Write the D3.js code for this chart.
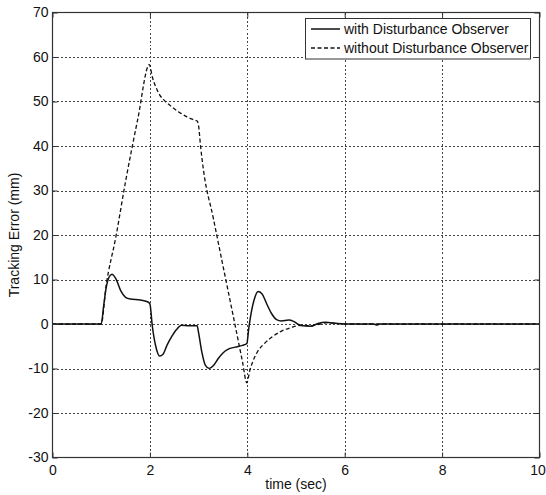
<!DOCTYPE html>
<html>
<head>
<meta charset="utf-8">
<script src="https://cdn.jsdelivr.net/npm/d3@7/dist/d3.min.js"></script>
<style>
  body { margin: 0; background: #fff; }
  text { font-family: "Liberation Sans", Arial, sans-serif; fill: #111; }
</style>
</head>
<body>
<svg id="chart" width="546" height="495"></svg>
<script>
// tick labels
const xTicks = [0, 2, 4, 6, 8, 10]
const yTicks = [-30, -20, -10, 0, 10, 20, 30, 40, 50, 60, 70]

// with disturbance observer (solid)
const withTime = [0, 1.0, 1.05, 1.1, 1.16, 1.22, 1.3, 1.4, 1.5, 1.6, 1.8, 1.95, 2.0, 2.05, 2.12, 2.2, 2.27, 2.35, 2.45, 2.55, 2.65, 2.8, 2.97, 3.0, 3.07, 3.14, 3.22, 3.3, 3.4, 3.5, 3.6, 3.75, 3.9, 3.99, 4.03, 4.08, 4.15, 4.22, 4.3, 4.4, 4.5, 4.6, 4.7, 4.85, 4.95, 5.05, 5.15, 5.3, 5.45, 5.6, 5.7, 5.85, 6.0, 6.6, 6.66, 6.72, 10]
const withErr = [0, 0, 4, 8, 10.5, 11.2, 10.2, 7.5, 6.0, 5.6, 5.4, 5.0, 4.5, -0.5, -5, -7.2, -6.8, -4.8, -2.8, -1.2, -0.3, -0.4, -0.4, -2, -6.5, -9.3, -10, -9.4, -7.8, -6.5, -5.7, -5.2, -4.8, -4.4, -1, 2.5, 5.8, 7.3, 6.8, 4.5, 2.3, 1.0, 0.7, 0.9, 0.6, -0.1, -0.4, -0.5, 0.1, 0.4, 0.3, 0.1, 0, 0, -0.2, 0, 0]

// without disturbance observer (dashed)
const withoutTime = [0, 1.0, 1.1, 1.3, 1.5, 1.75, 1.99, 2.05, 2.12, 2.2, 2.3, 2.45, 2.6, 2.75, 2.9, 2.97, 3.0, 3.04, 3.1, 3.3, 3.5, 3.7, 3.9, 3.99, 4.05, 4.1, 4.2, 4.35, 4.5, 4.7, 4.9, 5.1, 5.3, 5.5, 5.65, 5.85, 6.0, 10]
const withoutErr = [0, 0, 8.5, 19.5, 32, 46, 58.3, 55.5, 53.3, 51.5, 50.2, 48.8, 47.6, 46.6, 45.9, 45.6, 44.5, 40, 34.6, 23.9, 13.1, 2.4, -8.4, -13.2, -10.5, -8.8, -6.4, -4.4, -3, -1.6, -0.8, -0.3, -0.4, 0, 0.3, 0.1, 0, 0]

const seriesNames = ['with Disturbance Observer', 'without Disturbance Observer']

const svg = d3.select('#chart')
const pLeft = 52.5, pRight = 539.5, pTop = 12.5, pBottom = 457.5

const x = d3.scaleLinear().domain([0, 10]).range([pLeft, pRight])
const y = d3.scaleLinear().domain([-30, 70]).range([pBottom, pTop])

// grid
const grid = svg.append('g')
  .attr('stroke', '#444')
  .attr('stroke-width', 1)
  .attr('stroke-dasharray', '2,2')
  .attr('shape-rendering', 'crispEdges')

grid.selectAll('line.gx')
  .data(xTicks.slice(1, -1))
  .enter().append('line')
  .attr('x1', d => Math.round(x(d)) + 0.5).attr('x2', d => Math.round(x(d)) + 0.5)
  .attr('y1', pTop).attr('y2', pBottom)

grid.selectAll('line.gy')
  .data(yTicks.slice(1, -1))
  .enter().append('line')
  .attr('y1', d => Math.round(y(d)) + 0.5).attr('y2', d => Math.round(y(d)) + 0.5)
  .attr('x1', pLeft).attr('x2', pRight)

// lines
const line = d3.line()
  .x(d => x(d[0]))
  .y(d => y(d[1]))
  .curve(d3.curveMonotoneX)

svg.append('path')
  .datum(withoutTime.map((t, i) => [t, withoutErr[i]]))
  .attr('fill', 'none')
  .attr('stroke', '#111')
  .attr('stroke-width', 1.3)
  .attr('stroke-dasharray', '4,2.5')
  .attr('d', line)

svg.append('path')
  .datum(withTime.map((t, i) => [t, withErr[i]]))
  .attr('fill', 'none')
  .attr('stroke', '#111')
  .attr('stroke-width', 1.5)
  .attr('d', line)

// axes with inward ticks on all four sides
const axisStyle = g => {
  g.select('.domain').remove()
  g.selectAll('.tick line').attr('stroke', '#333')
  g.selectAll('.tick text')
    .attr('font-size', '14px')
    .attr('font-family', '"Liberation Sans", Arial, sans-serif')
    .attr('fill', '#111')
}

const xAxisG = svg.append('g')
  .attr('transform', `translate(0,${pBottom})`)
  .call(d3.axisBottom(x).tickValues(xTicks).tickSize(-5).tickPadding(8).tickFormat(d => String(d)))
  .call(axisStyle)
// last label sits on the page edge, nudge it in a little
xAxisG.selectAll('.tick text').filter(d => d === 10).attr('dx', -2)

svg.append('g')
  .attr('transform', `translate(${pLeft},0)`)
  .call(d3.axisLeft(y).tickValues(yTicks).tickSize(-5).tickPadding(4).tickFormat(d => String(d)))
  .call(axisStyle)

svg.append('g')
  .attr('transform', `translate(0,${pTop})`)
  .call(d3.axisTop(x).tickValues(xTicks).tickSize(-5).tickFormat(''))
  .call(axisStyle)

svg.append('g')
  .attr('transform', `translate(${pRight},0)`)
  .call(d3.axisRight(y).tickValues(yTicks).tickSize(-5).tickFormat(''))
  .call(axisStyle)

svg.append('rect')
  .attr('x', pLeft).attr('y', pTop)
  .attr('width', pRight - pLeft).attr('height', pBottom - pTop)
  .attr('fill', 'none')
  .attr('stroke', '#333')
  .attr('stroke-width', 1.2)

// axis labels
svg.append('text')
  .attr('x', (pLeft + pRight) / 2).attr('y', 489)
  .attr('text-anchor', 'middle')
  .attr('font-size', '14px')
  .text('time (sec)')

svg.append('text')
  .attr('transform', `translate(19,${(pTop + pBottom) / 2}) rotate(-90)`)
  .attr('text-anchor', 'middle')
  .attr('font-size', '14px')
  .text('Tracking Error (mm)')

// legend
const legend = svg.append('g')
legend.append('rect')
  .attr('x', 305.5).attr('y', 18.5)
  .attr('width', 225).attr('height', 40.5)
  .attr('fill', '#fff')
  .attr('stroke', '#333')
  .attr('stroke-width', 1)

const items = legend.selectAll('g.item')
  .data(seriesNames)
  .enter().append('g')
  .attr('class', 'item')
  .attr('transform', (d, i) => `translate(0,${29 + i * 19})`)

items.append('line')
  .attr('x1', 311).attr('x2', 340)
  .attr('y1', 0).attr('y2', 0)
  .attr('stroke', '#111')
  .attr('stroke-width', (d, i) => i ? 1.3 : 1.5)
  .attr('stroke-dasharray', (d, i) => i ? '4,2.5' : null)

items.append('text')
  .attr('x', 344).attr('y', 5)
  .attr('font-size', '14px')
  .text(d => d)
</script>
</body>
</html>
